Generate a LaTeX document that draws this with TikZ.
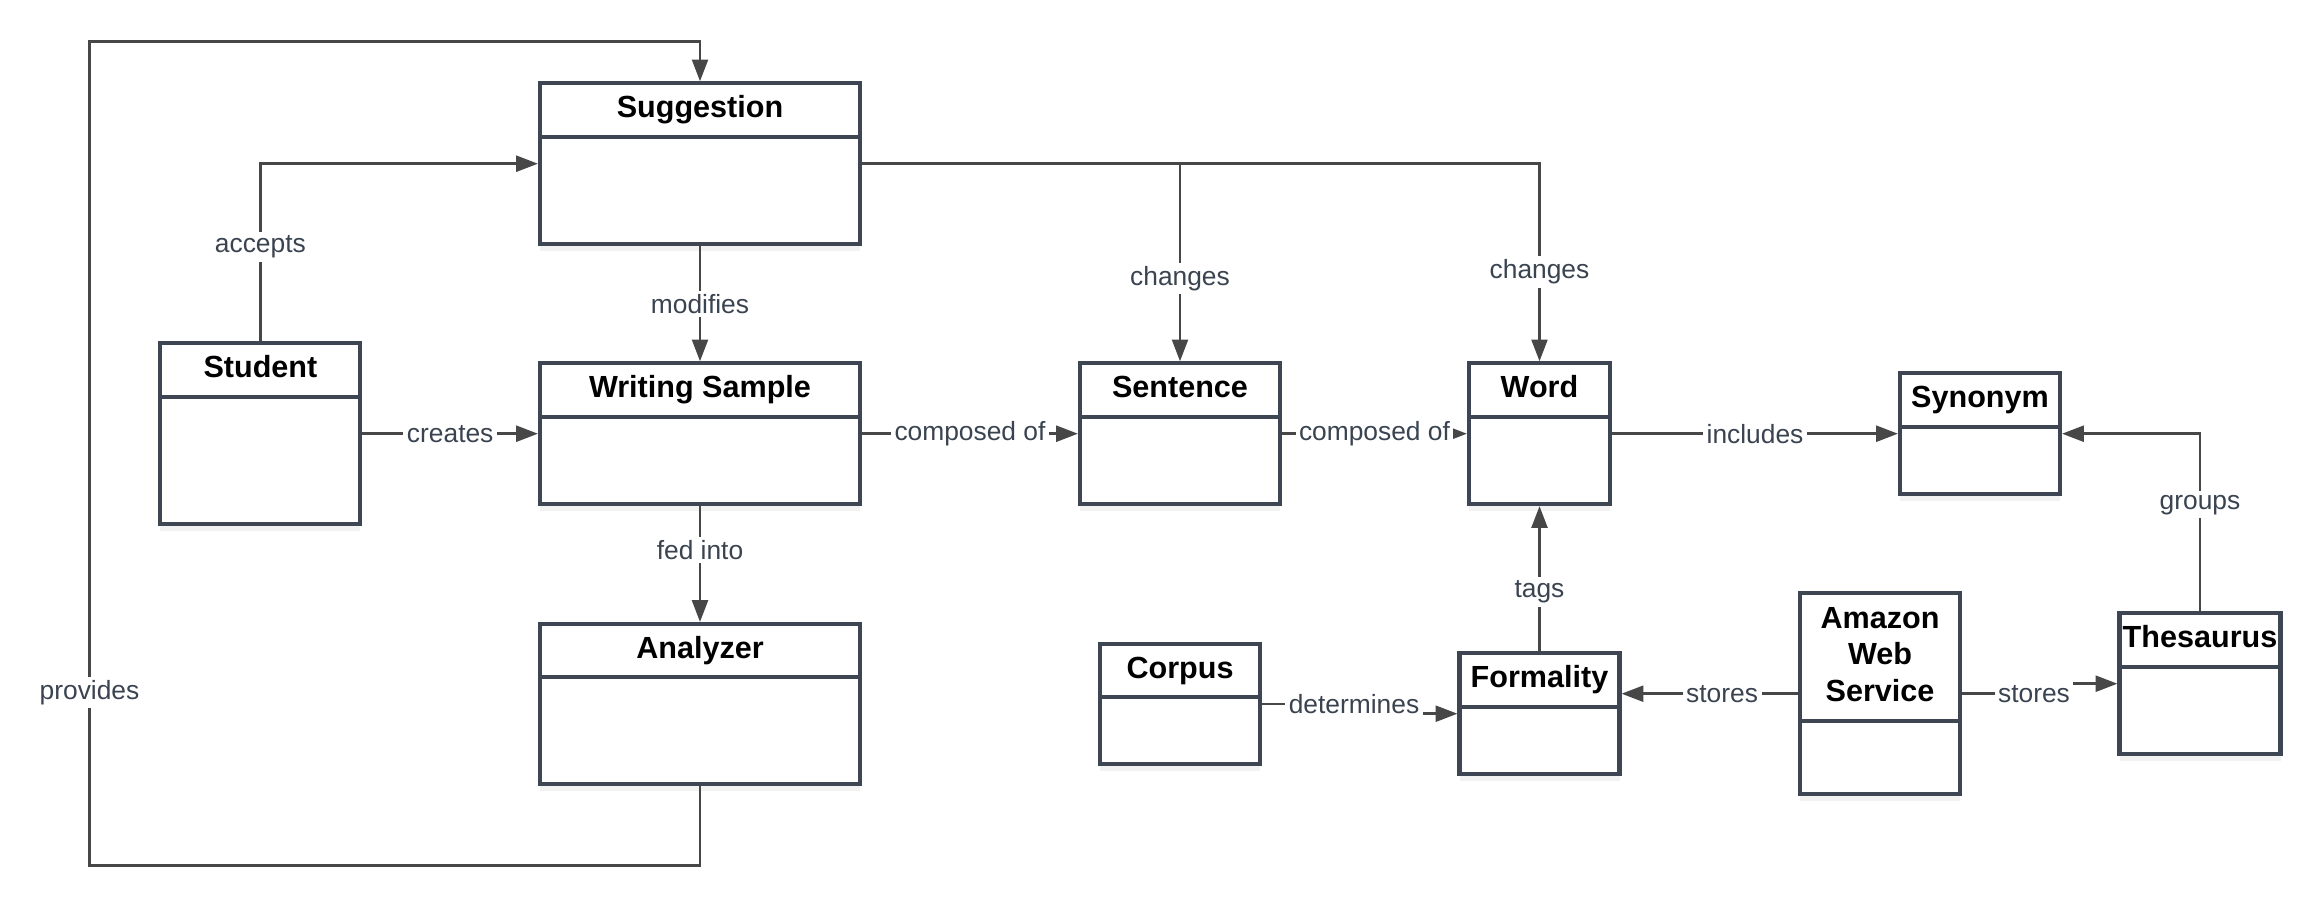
\documentclass[tikz,border=0pt]{standalone}
\usepackage{fontspec}
\setmainfont{Liberation Sans}
\usepackage{tikz}
\usetikzlibrary{arrows.meta,positioning,shadows}
\definecolor{edgec}{HTML}{3D4652}
\definecolor{linec}{HTML}{474747}
\definecolor{labc}{HTML}{3A4350}
\tikzset{
    %Define standard arrow tip
    >={Triangle[length=6.2pt,width=4.5pt]},
    %Define style for class boxes
    cls/.style={
           rectangle,
           draw=edgec, line width=1.15pt,
           fill=white,
           inner sep=0pt,
           drop shadow={shadow xshift=0pt, shadow yshift=-2pt, opacity=.1}
           },
    head/.style={
           rectangle,
           draw=edgec, line width=1.15pt,
           anchor=north,
           inner sep=0pt,
           minimum width=#1,
           minimum height=.534cm,
           text height=6.3pt,
           text depth=1.9pt,
           align=center,
           font=\bfseries\fontsize{8.7}{10.4}\selectfont
           },
    % Define style for connector labels
    lbl/.style={
           fill=white,
           inner sep=1pt,
           text=labc,
           font=\fontsize{7.5}{9}\selectfont
           }
}
\begin{document}
\begin{tikzpicture}[->,draw=linec,line width=.8pt]
\useasboundingbox (0,0) rectangle (23.2,9.08);
\node[cls, minimum width=3.2cm, minimum height=1.607cm](1) at (7.00,7.443){};
\node[cls, minimum width=3.2cm, minimum height=1.407cm](3) at (7.00,4.743){};
\node[cls, minimum width=3.2cm, minimum height=1.6cm](4) at (7.00,2.04){};
\node[cls, minimum width=2cm, minimum height=1.807cm](2) at (2.604,4.743){};
\node[cls, minimum width=2cm, minimum height=1.407cm](5) at (11.80,4.743){};
\node[cls, minimum width=1.41cm, minimum height=1.407cm](6) at (15.395,4.743){};
\node[cls, minimum width=1.6cm, minimum height=1.207cm](7) at (19.80,4.743){};
\node[cls, minimum width=1.6cm, minimum height=1.2cm](8) at (11.80,2.04){};
\node[cls, minimum width=1.6cm, minimum height=1.207cm](9) at (15.395,1.943){};
\node[cls, minimum width=1.6cm, minimum height=2.007cm](10) at (18.80,2.143){};
\node[cls, minimum width=1.61cm, minimum height=1.407cm](11) at (22.00,2.243){};
\node[head=3.2cm](t1) at (1.north){Suggestion};
\node[head=2cm](t2) at (2.north){Student};
\node[head=3.2cm](t3) at (3.north){Writing Sample};
\node[head=3.2cm](t4) at (4.north){Analyzer};
\node[head=2cm](t5) at (5.north){Sentence};
\node[head=1.41cm](t6) at (6.north){Word};
\node[head=1.6cm](t7) at (7.north){Synonym};
\node[head=1.6cm](t8) at (8.north){Corpus};
\node[head=1.6cm](t9) at (9.north){Formality};
\node[head=1.6cm, minimum height=1.28cm, text height=, text depth=](t10) at (10.north){\raisebox{.9pt}{\begin{tabular}{@{}c@{}}Amazon\\Web\\Service\end{tabular}}};
\node[head=1.61cm](t11) at (11.north){Thesaurus};
\coordinate (c1) at (0.895,0.423);
\coordinate (c2) at (0.895,8.663);
\path[]
	(2) edge node[lbl]{creates} (3)
	(3) edge node[lbl]{composed of} (5)
	(5) edge node[lbl]{composed of} (6)
	(6) edge node[lbl]{includes} (7)
	(1) edge node[lbl]{modifies} (3)
	(3) edge node[lbl, pos=.38]{fed into} (4)
	(9) edge node[lbl, pos=.41]{tags} (6);
\draw (2.north) |- node[lbl, pos=.265]{accepts} (1.west);
\draw (1.east) -| node[lbl, pos=.774]{changes} (6.north);
\draw (1.east -| 5.north) -- node[lbl, pos=.58]{changes} (5.north);
\draw (4.south) |- (c1) -- node[lbl, pos=.21]{provides} (c2) -| (1.north);
\draw (11.north) |- node[lbl, pos=.3]{groups} (7.east);
\draw (8.east) -- node[lbl, pos=.92]{determines} ++(1,0) |- (9.west);
\draw (10.west) -- node[lbl, pos=.43]{stores} (10.west -| 9.east);
\draw (10.east) -- node[lbl, pos=.9]{stores} ++(.8,0) |- (11.west);
\end{tikzpicture}
\end{document}
